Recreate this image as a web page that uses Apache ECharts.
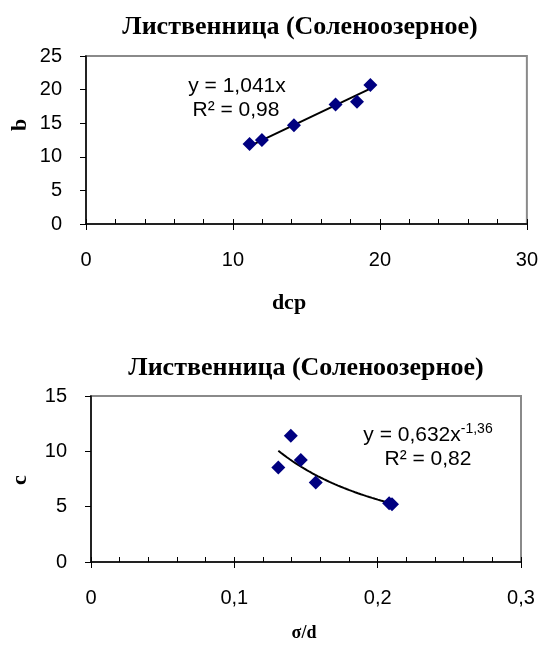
<!DOCTYPE html>
<html>
<head>
<meta charset="utf-8">
<script src="https://cdn.jsdelivr.net/npm/echarts@6/dist/echarts.min.js"></script>
<style>
	html, body { margin: 0; padding: 0; background: #fff; }
	#chart { width: 541px; height: 648px; }
</style>
</head>
<body>
<div id="chart"></div>
<script>
// верхний график: b от dcp
var dcpValues = [11.13, 11.97, 14.15, 16.98, 18.44, 19.35];
var bValues = [11.9, 12.5, 14.7, 17.8, 18.2, 20.7];
var linSlope = 1.041;

// нижний график: c от sigma/d
var sdValues = [0.1307, 0.1394, 0.1464, 0.1568, 0.2080, 0.2100];
var cValues = [8.53, 11.41, 9.22, 7.18, 5.32, 5.21];
var powCoef = 0.632;
var powExp = -1.36;

var titleText = "Лиственница (Соленоозерное)";
var topXTicks = [0, 10, 20, 30];
var topYTicks = [0, 5, 10, 15, 20, 25];
var botXTicks = [0, 0.1, 0.2, 0.3];
var botYTicks = [0, 5, 10, 15];

function pairs(xs, ys) {
	var out = [];
	for (var i = 0; i < xs.length; i++) out.push([xs[i], ys[i]]);
	return out;
}

// линии тренда по коэффициентам уравнений
function linTrend() {
	var lo = Math.min.apply(null, dcpValues), hi = Math.max.apply(null, dcpValues);
	return [[lo, linSlope * lo], [hi, linSlope * hi]];
}
function powTrend() {
	var lo = Math.min.apply(null, sdValues), hi = Math.max.apply(null, sdValues);
	var out = [];
	for (var i = 0; i <= 40; i++) {
		var x = lo + (hi - lo) * i / 40;
		out.push([x, powCoef * Math.pow(x, powExp)]);
	}
	return out;
}

var sans = "Liberation Sans, Arial, sans-serif";
var serif = "Liberation Serif, Times New Roman, serif";
var navy = "#000080";

function minorAxis(grid, max, step) {
	return {
		type: 'value', gridIndex: grid, position: 'bottom', min: 0, max: max, interval: step,
		axisLine: { show: true, onZero: false, lineStyle: { color: '#000', width: 1.5 } },
		axisTick: { show: true, inside: true, length: 5, lineStyle: { color: '#000', width: 1 } },
		axisLabel: { show: false },
		splitLine: { show: false }
	};
}
function majorAxis(grid, ticks, fmt) {
	return {
		type: 'value', gridIndex: grid, position: 'bottom',
		min: ticks[0], max: ticks[ticks.length - 1], interval: ticks[1] - ticks[0],
		axisLine: { show: false },
		axisTick: { show: true, inside: false, length: 6, lineStyle: { color: '#000', width: 1 } },
		axisLabel: { margin: 26, color: '#000', fontSize: 20, fontFamily: sans, formatter: fmt },
		splitLine: { show: false }
	};
}
function yAxis(grid, ticks) {
	return {
		type: 'value', gridIndex: grid,
		min: ticks[0], max: ticks[ticks.length - 1], interval: ticks[1] - ticks[0],
		axisLine: { show: true, onZero: false, lineStyle: { color: '#000', width: 1.5 } },
		axisTick: { show: true, inside: false, length: 6, lineStyle: { color: '#000', width: 1 } },
		axisLabel: { margin: 24, color: '#000', fontSize: 20, fontFamily: sans },
		splitLine: { show: false }
	};
}
function text(x, y, str, font, rot) {
	return {
		type: 'text', x: x, y: y, rotation: rot || 0,
		style: { text: str, x: 0, y: 0, align: 'center', verticalAlign: 'middle', font: font, fill: '#000' }
	};
}

var chart = echarts.init(document.getElementById('chart'));
var option = {
	animation: false,
	grid: [
		{ left: 86, top: 56, width: 442, height: 168, show: true, borderColor: '#8a8a8a', borderWidth: 2 },
		{ left: 91, top: 396, width: 430, height: 166, show: true, borderColor: '#8a8a8a', borderWidth: 2 }
	],
	xAxis: [
		minorAxis(0, 30, 2),
		majorAxis(0, topXTicks, function(v) { return String(v); }),
		minorAxis(1, 0.3, 0.02),
		majorAxis(1, botXTicks, function(v) { return v === 0 ? '0' : v.toFixed(1).replace('.', ','); })
	],
	yAxis: [yAxis(0, topYTicks), yAxis(1, botYTicks)],
	series: [
		{
			type: 'line', xAxisIndex: 0, yAxisIndex: 0, data: linTrend(), showSymbol: false,
			lineStyle: { color: '#000', width: 2 }, z: 2
		},
		{
			type: 'scatter', xAxisIndex: 0, yAxisIndex: 0, data: pairs(dcpValues, bValues),
			symbol: 'diamond', symbolSize: 14, itemStyle: { color: navy, opacity: 1 }, z: 3
		},
		{
			type: 'line', xAxisIndex: 2, yAxisIndex: 1, data: powTrend(), showSymbol: false, smooth: false,
			lineStyle: { color: '#000', width: 2 }, z: 2
		},
		{
			type: 'scatter', xAxisIndex: 2, yAxisIndex: 1, data: pairs(sdValues, cValues),
			symbol: 'diamond', symbolSize: 14, itemStyle: { color: navy, opacity: 1 }, z: 3
		}
	],
	graphic: [
		text(300, 27, titleText, 'bold 26px ' + serif),
		text(306, 368, titleText, 'bold 26px ' + serif),
		text(20, 125, 'b', 'bold 22px ' + serif, Math.PI / 2),
		text(289, 303, 'dcp', 'bold 22px ' + serif),
		text(20, 480, 'c', 'bold 22px ' + serif, Math.PI / 2),
		text(304, 633, 'σ/d', 'bold 18px ' + serif),
		text(237, 86, 'y = 1,041x', '21px ' + sans),
		text(236, 110, 'R² = 0,98', '21px ' + sans),
		{
			type: 'text', x: 428, y: 435,
			style: {
				text: '{a|y = 0,632x}{s|-1,36}', x: 0, y: 0, align: 'center', verticalAlign: 'middle', fill: '#000',
				rich: {
					a: { fontSize: 21, fontFamily: sans, lineHeight: 26 },
					s: { fontSize: 14, fontFamily: sans, verticalAlign: 'top', lineHeight: 26 }
				}
			}
		},
		text(428, 459, 'R² = 0,82', '21px ' + sans)
	]
};
chart.setOption(option);
</script>
</body>
</html>
